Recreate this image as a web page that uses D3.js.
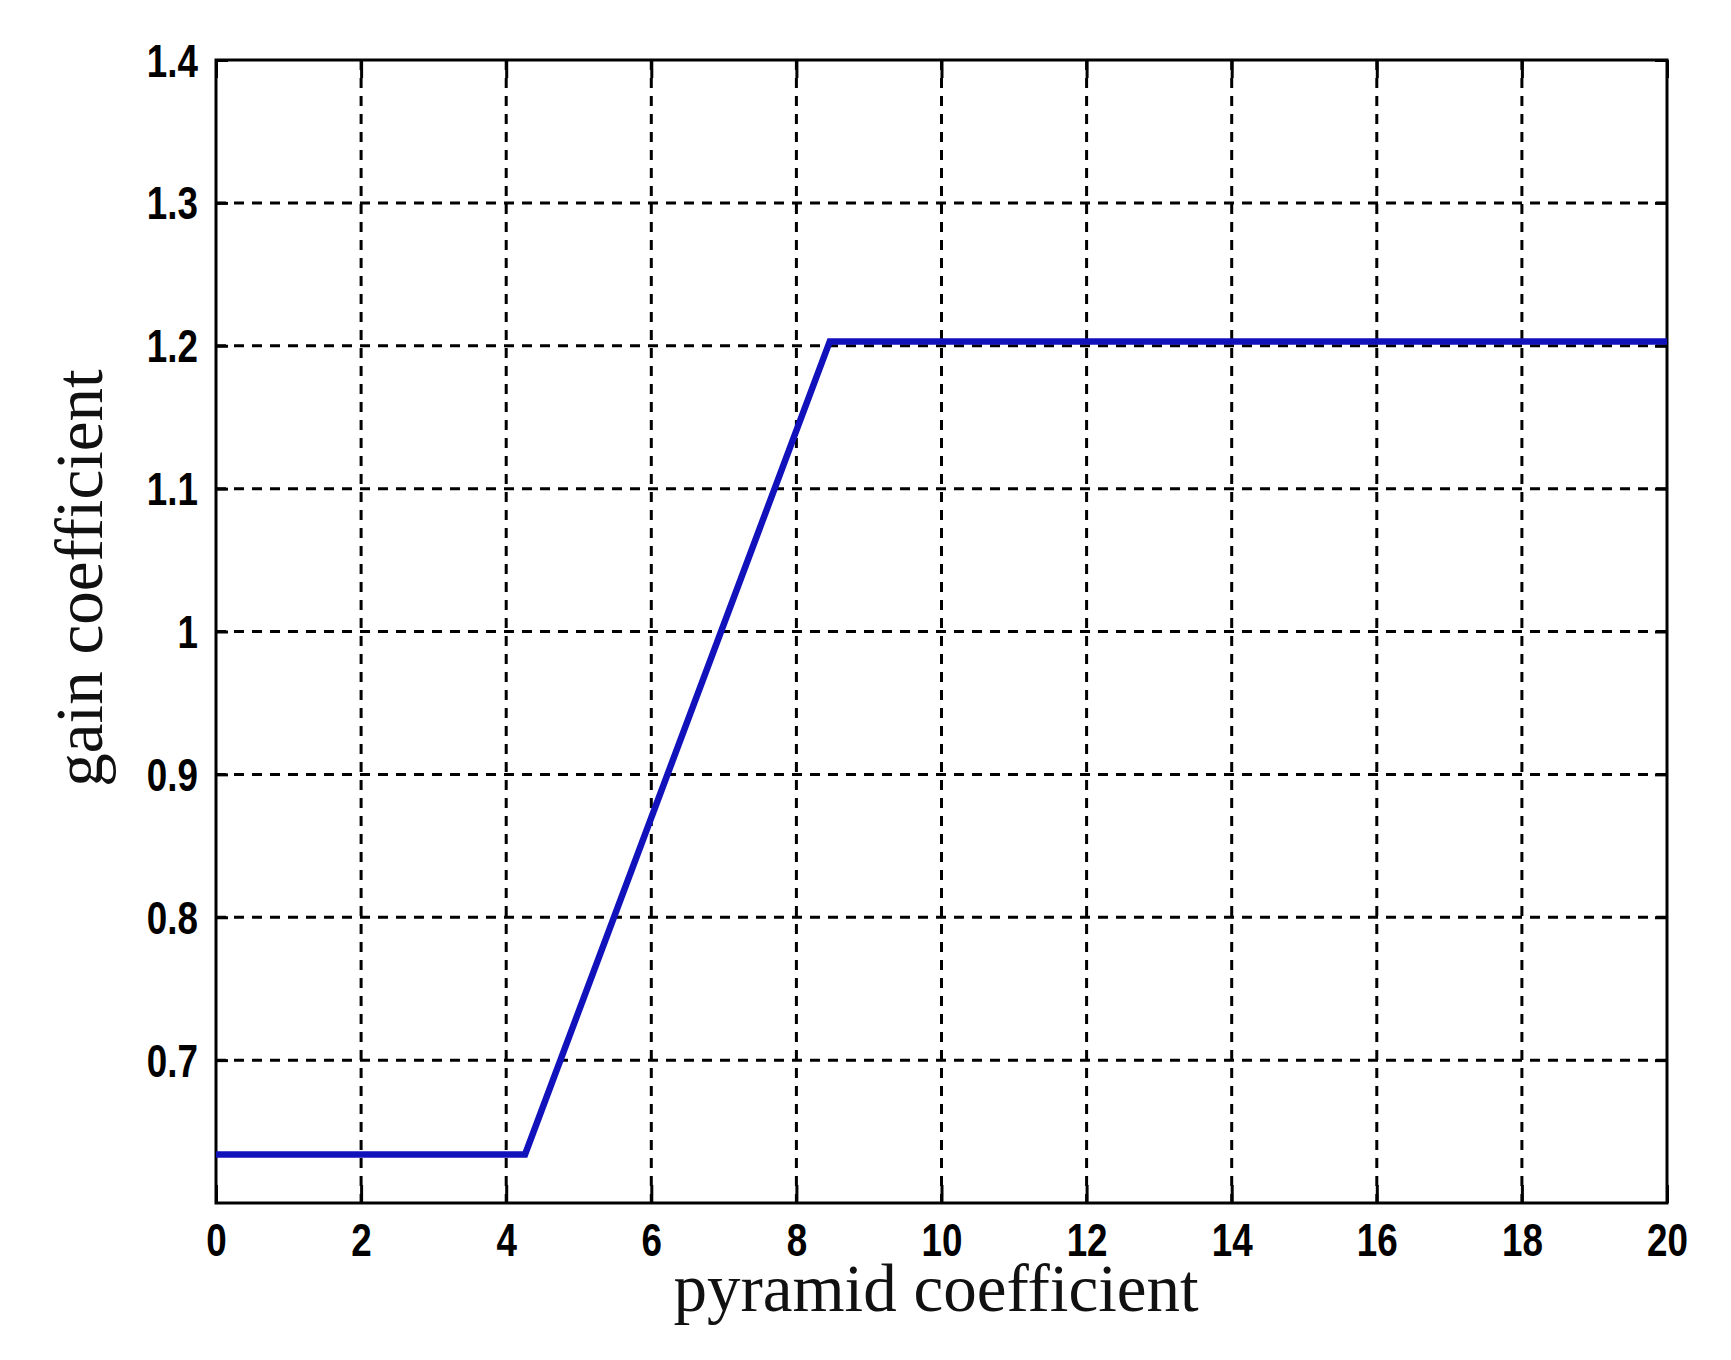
<!DOCTYPE html>
<html>
<head>
<meta charset="utf-8">
<script src="https://cdn.jsdelivr.net/npm/d3@7"></script>
<style>
  html, body { margin: 0; padding: 0; background: #fff; }
  svg { display: block; }
  .tick-label { font-family: 'Liberation Sans Narrow', 'Arial Narrow', 'Liberation Sans', Arial, sans-serif; font-weight: bold; font-size: 46px; fill: #000; }
  .title { font-family: 'Liberation Serif', 'Times New Roman', serif; font-size: 67px; fill: #111; }
</style>
</head>
<body>
<svg id="chart" width="1731" height="1360"></svg>
<script>
// ---- data ----
const pyramidCoefficient = [0, 4.26, 8.46, 20];
const gainCoefficient = [0.634, 0.634, 1.203, 1.203];
const xTickValues = [0, 2, 4, 6, 8, 10, 12, 14, 16, 18, 20];
const yTickValues = [0.7, 0.8, 0.9, 1.0, 1.1, 1.2, 1.3, 1.4];
const yTickLabels = ["0.7", "0.8", "0.9", "1", "1.1", "1.2", "1.3", "1.4"];
const xTitle = "pyramid coefficient";
const yTitle = "gain coefficient";

// ---- layout ----
const pLeft = 216, pRight = 1667, pTop = 60, pBottom = 1203;
const svg = d3.select("#chart");

const x = d3.scaleLinear().domain([0, 20]).range([pLeft, pRight]);
const y = d3.scaleLinear().domain([0.6, 1.4]).range([pBottom, pTop]);

// grid
const g = svg.append("g");
g.selectAll("line.vgrid").data(xTickValues.filter(v => v > 0 && v < 20)).enter()
  .append("line").attr("class", "vgrid")
  .attr("x1", d => x(d)).attr("x2", d => x(d))
  .attr("y1", pTop).attr("y2", pBottom)
  .attr("stroke", "#000").attr("stroke-width", 3).attr("stroke-dasharray", "10,8");
g.selectAll("line.hgrid").data(yTickValues.filter(v => v < 1.35)).enter()
  .append("line").attr("class", "hgrid")
  .attr("x1", pLeft).attr("x2", pRight)
  .attr("y1", d => y(d)).attr("y2", d => y(d))
  .attr("stroke", "#000").attr("stroke-width", 3).attr("stroke-dasharray", "10,8");

// axes with inward ticks
const xAxisB = d3.axisBottom(x).tickValues(xTickValues).tickSizeInner(-18).tickSizeOuter(0).tickFormat(d3.format("d"));
const xAxisT = d3.axisTop(x).tickValues(xTickValues).tickSizeInner(-18).tickSizeOuter(0).tickFormat("");
const yAxisL = d3.axisLeft(y).tickValues(yTickValues).tickSizeInner(-12).tickSizeOuter(0)
  .tickFormat((d, i) => yTickLabels[i]);
const yAxisR = d3.axisRight(y).tickValues(yTickValues).tickSizeInner(-12).tickSizeOuter(0).tickFormat("");

function styleAxis(sel) {
  sel.select(".domain").remove();
  sel.attr("font-size", null).attr("font-family", null);
  sel.selectAll(".tick line").attr("stroke", "#000").attr("stroke-width", 3);
  sel.selectAll(".tick text").attr("class", "tick-label");
}
function narrow(sel) {
  sel.each(function () {
    const w = this.getComputedTextLength();
    if (w > 0) d3.select(this).attr("textLength", w * 0.8).attr("lengthAdjust", "spacingAndGlyphs");
  });
}
const gxb = svg.append("g").attr("transform", `translate(0,${pBottom})`).call(xAxisB).call(styleAxis);
gxb.selectAll(".tick text").attr("y", 37).attr("dy", "0.35em").attr("text-anchor", "middle").call(narrow);
svg.append("g").attr("transform", `translate(0,${pTop})`).call(xAxisT).call(styleAxis);
const gyl = svg.append("g").attr("transform", `translate(${pLeft},0)`).call(yAxisL).call(styleAxis);
gyl.selectAll(".tick text").attr("x", -18).attr("dy", "0.35em").attr("text-anchor", "end").call(narrow);
svg.append("g").attr("transform", `translate(${pRight},0)`).call(yAxisR).call(styleAxis);

// frame
svg.append("rect").attr("x", pLeft).attr("y", pTop).attr("width", pRight - pLeft).attr("height", pBottom - pTop)
  .attr("fill", "none").attr("stroke", "#000").attr("stroke-width", 3);

// data line
const pts = pyramidCoefficient.map((v, i) => [v, gainCoefficient[i]]);
svg.append("path").datum(pts)
  .attr("d", d3.line().x(d => x(d[0])).y(d => y(d[1])))
  .attr("fill", "none").attr("stroke", "#1212bc").attr("stroke-width", 6.5).attr("stroke-linejoin", "miter");

// titles
svg.append("text").attr("class", "title").attr("x", 936).attr("y", 1311).attr("text-anchor", "middle").text(xTitle);
svg.append("text").attr("class", "title").attr("text-anchor", "middle")
  .attr("transform", "translate(102,578) rotate(-90)").text(yTitle);
</script>
</body>
</html>
